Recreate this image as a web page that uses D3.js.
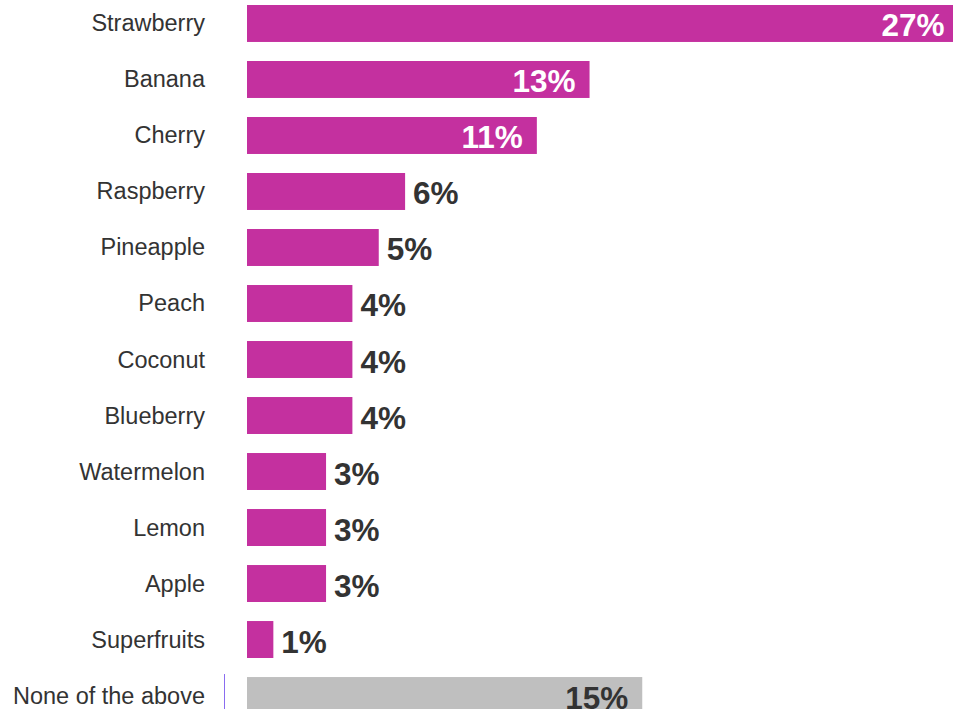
<!DOCTYPE html>
<html>
<head>
<meta charset="utf-8">
<script src="https://cdn.jsdelivr.net/npm/d3@7"></script>
<style>
  body { margin: 0; background: #fff; overflow: hidden; }
  svg { display: block; font-family: "Liberation Sans", Arial, sans-serif; }
</style>
</head>
<body>
<div id="chart"></div>
<script>
'use strict';

const categories = ['Strawberry', 'Banana', 'Cherry', 'Raspberry', 'Pineapple', 'Peach',
    'Coconut', 'Blueberry', 'Watermelon', 'Lemon', 'Apple', 'Superfruits', 'None of the above'];
const values = [27, 13, 11, 6, 5, 4, 4, 4, 3, 3, 3, 1, 15];
const valueLabels = ['27%', '13%', '11%', '6%', '5%', '4%', '4%', '4%', '3%', '3%', '3%', '1%', '15%'];
const insideLabels = ['Strawberry', 'Banana', 'Cherry', 'None of the above'];

const width = 953,
    height = 709,
    barLeft = 247,
    pink = '#c4309f',
    grey = '#bfbfbf',
    dark = '#333333';

const data = categories.map((c, i) => ({name: c, value: values[i], label: valueLabels[i]}));

const svg = d3.select('#chart').append('svg')
    .attr('width', width)
    .attr('height', height);

const x = d3.scaleLinear()
    .domain([0, 27])
    .range([barLeft, barLeft + 27 * 26.35]);

const y = d3.scaleBand()
    .domain(categories)
    .range([5, 714])
    .paddingInner(0.34)
    .paddingOuter(0);

// category labels
svg.selectAll('.cat')
    .data(data)
    .enter().append('text')
    .attr('class', 'cat')
    .attr('x', 205)
    .attr('y', (d) => y(d.name) + y.bandwidth() / 2 + 8)
    .attr('text-anchor', 'end')
    .style('font-size', '23.5px')
    .style('fill', dark)
    .text((d) => d.name);

// bars
svg.selectAll('.bar')
    .data(data)
    .enter().append('rect')
    .attr('class', 'bar')
    .attr('x', x(0))
    .attr('y', (d) => y(d.name))
    .attr('width', (d) => x(d.value) - x(0))
    .attr('height', y.bandwidth())
    .style('fill', (d) => d.name === 'None of the above' ? grey : pink);

// value labels
svg.selectAll('.val')
    .data(data)
    .enter().append('text')
    .attr('class', 'val')
    .attr('x', (d) => insideLabels.includes(d.name) ? x(d.value) - 14 : x(d.value) + 8)
    .attr('y', (d) => y(d.name) + y.bandwidth() / 2 + 13)
    .attr('text-anchor', (d) => insideLabels.includes(d.name) ? 'end' : 'start')
    .style('font-size', '31.5px')
    .style('font-weight', 'bold')
    .style('fill', (d) => insideLabels.includes(d.name) && d.name !== 'None of the above' ? '#fff' : dark)
    .text((d) => d.label);

// thin marker line next to the last row
svg.append('line')
    .attr('x1', 224.5)
    .attr('x2', 224.5)
    .attr('y1', y('None of the above') - 3)
    .attr('y2', height)
    .style('stroke', '#8a6cf0')
    .style('stroke-width', 1);
</script>
</body>
</html>
